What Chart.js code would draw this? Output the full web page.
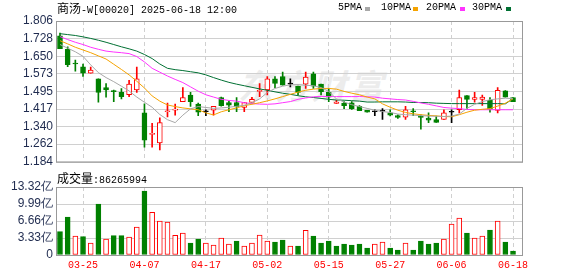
<!DOCTYPE html>
<html>
<head>
<meta charset="utf-8">
<script src="https://cdn.jsdelivr.net/npm/chart.js@4.4.1/dist/chart.umd.min.js"></script>
<style>
body{margin:0;width:578px;height:276px;background:#fff;overflow:hidden;position:relative;font-family:"Liberation Mono",monospace;}
.t{position:absolute;font-size:10px;line-height:14px;color:#000;white-space:nowrap;}
.cjk{font-family:"Noto Sans CJK SC",sans-serif;font-size:12px;}
.sq{position:absolute;width:5px;height:4px;}
#wm{position:absolute;left:238px;top:66px;font:italic bold 34px "Noto Sans CJK SC";line-height:38px;color:#ececec;letter-spacing:3px;}
#kc{position:absolute;left:0;top:0;}
#vc{position:absolute;left:0;top:170px;}
</style>
</head>
<body>
<div id="wm">东方财富</div>
<canvas id="kc" width="578" height="172"></canvas>
<canvas id="vc" width="578" height="106"></canvas>

<div class="t" style="left:57px;top:1px"><span class="cjk">商汤</span>-W[00020] 2025-06-18 12:00</div>
<div class="t" style="left:338px;top:1px">5PMA</div><div class="sq" style="left:365px;top:7px;background:#a8a8a8"></div>
<div class="t" style="left:381px;top:1px">10PMA</div><div class="sq" style="left:413px;top:7px;background:#f5a300"></div>
<div class="t" style="left:426px;top:1px">20PMA</div><div class="sq" style="left:460px;top:7px;background:#ff33ff"></div>
<div class="t" style="left:472px;top:1px">30PMA</div><div class="sq" style="left:506px;top:7px;background:#007033"></div>
<div class="t" style="left:57px;top:171px"><span class="cjk">成交量</span>:86265994</div>

<script>
// ================= DATA =================
const dates = ["03-20","03-21","03-24","03-25","03-26","03-27","03-28","03-31","04-01","04-02",
  "04-03","04-07","04-08","04-09","04-10","04-11","04-14","04-15","04-16","04-17",
  "04-22","04-23","04-24","04-25","04-28","04-29","04-30","05-02","05-06","05-07",
  "05-08","05-09","05-12","05-13","05-14","05-15","05-16","05-19","05-20","05-21",
  "05-22","05-23","05-26","05-27","05-28","05-29","05-30","06-02","06-03","06-04",
  "06-05","06-06","06-09","06-10","06-11","06-12","06-13","06-16","06-17","06-18"];
const xTickDates = ["03-25","04-07","04-17","05-02","05-15","05-27","06-06","06-18"];
const priceTicks = [1.184,1.262,1.340,1.417,1.495,1.573,1.650,1.728,1.806];
const volTicks = [0,3.33,6.66,9.99,13.32];

const open  = [1.741,1.681,1.620,1.604,1.576,1.551,1.512,1.499,1.491,1.481,
  1.501,1.400,1.305,1.267,1.405,1.412,1.450,1.479,1.439,1.405,
  1.412,1.468,1.446,1.446,1.424,1.446,1.495,1.501,1.551,1.561,
  1.527,1.518,1.527,1.573,1.527,1.491,1.442,1.443,1.444,1.429,
  1.411,1.405,1.407,1.400,1.388,1.381,1.409,1.385,1.377,1.370,
  1.371,1.403,1.414,1.476,1.460,1.460,1.455,1.411,1.498,1.468];
const high  = [1.753,1.692,1.633,1.616,1.602,1.551,1.530,1.501,1.508,1.544,
  1.602,1.440,1.354,1.378,1.443,1.439,1.512,1.491,1.443,1.414,
  1.429,1.470,1.452,1.468,1.446,1.469,1.530,1.561,1.561,1.580,
  1.551,1.518,1.580,1.580,1.527,1.508,1.455,1.450,1.450,1.432,
  1.411,1.414,1.419,1.414,1.392,1.429,1.419,1.392,1.400,1.386,
  1.414,1.414,1.501,1.476,1.491,1.479,1.468,1.512,1.499,1.468];
const low   = [1.684,1.604,1.584,1.561,1.576,1.447,1.469,1.450,1.462,1.472,
  1.491,1.249,1.249,1.237,1.382,1.390,1.450,1.429,1.388,1.388,
  1.390,1.430,1.405,1.405,1.405,1.442,1.472,1.479,1.512,1.522,
  1.515,1.479,1.508,1.508,1.479,1.450,1.442,1.419,1.415,1.410,
  1.403,1.388,1.371,1.387,1.376,1.371,1.388,1.328,1.357,1.358,
  1.371,1.357,1.400,1.419,1.447,1.433,1.403,1.400,1.469,1.450];
const close = [1.684,1.613,1.616,1.576,1.589,1.491,1.501,1.494,1.472,1.527,
  1.550,1.280,1.308,1.357,1.408,1.415,1.468,1.450,1.403,1.405,
  1.429,1.432,1.434,1.426,1.446,1.460,1.498,1.550,1.530,1.522,
  1.527,1.490,1.558,1.518,1.494,1.469,1.448,1.432,1.419,1.410,
  1.403,1.405,1.407,1.390,1.380,1.414,1.405,1.380,1.368,1.358,
  1.400,1.403,1.468,1.460,1.468,1.470,1.417,1.500,1.469,1.450];

const ma5  = [1.702,1.686,1.670,1.650,1.612,1.578,1.556,1.538,1.518,1.497,
  1.470,1.447,1.425,1.393,1.370,1.357,1.390,1.418,1.428,1.424,
  1.420,1.422,1.425,1.429,1.434,1.445,1.462,1.490,1.508,1.518,
  1.524,1.525,1.522,1.520,1.512,1.495,1.462,1.448,1.436,1.428,
  1.420,1.412,1.406,1.402,1.395,1.392,1.390,1.388,1.386,1.385,
  1.384,1.386,1.395,1.420,1.438,1.450,1.458,1.462,1.465,1.463];
const ma10 = [1.719,1.705,1.690,1.678,1.666,1.652,1.638,1.615,1.592,1.568,
  1.540,1.510,1.475,1.452,1.435,1.428,1.422,1.418,1.414,1.400,
  1.391,1.405,1.414,1.422,1.432,1.438,1.445,1.453,1.462,1.472,
  1.482,1.492,1.500,1.505,1.508,1.508,1.505,1.495,1.487,1.480,
  1.470,1.462,1.440,1.425,1.412,1.402,1.396,1.392,1.389,1.387,
  1.384,1.383,1.392,1.403,1.412,1.416,1.419,1.430,1.443,1.462];
const ma20 = [1.737,1.724,1.712,1.702,1.690,1.681,1.673,1.669,1.666,1.662,
  1.649,1.625,1.597,1.580,1.563,1.548,1.534,1.515,1.496,1.480,
  1.470,1.460,1.455,1.452,1.445,1.441,1.439,1.438,1.440,1.445,
  1.450,1.460,1.466,1.471,1.473,1.472,1.472,1.472,1.472,1.472,
  1.471,1.470,1.465,1.462,1.459,1.457,1.451,1.444,1.438,1.431,
  1.424,1.421,1.419,1.415,1.414,1.414,1.414,1.414,1.414,1.414];
const ma30 = [1.750,1.746,1.742,1.736,1.729,1.721,1.712,1.702,1.692,1.683,
  1.673,1.658,1.640,1.616,1.597,1.591,1.587,1.582,1.577,1.568,
  1.556,1.545,1.535,1.527,1.520,1.513,1.506,1.500,1.493,1.487,
  1.482,1.476,1.471,1.468,1.464,1.460,1.457,1.456,1.454,1.452,
  1.448,1.448,1.449,1.449,1.449,1.448,1.446,1.446,1.445,1.443,
  1.442,1.441,1.441,1.441,1.441,1.441,1.441,1.441,1.440,1.463];

// volume, in the units of the axis labels
const volume = [4.57,7.44,3.72,3.59,2.35,9.99,3.13,3.79,3.79,3.52,
  5.48,12.53,8.36,6.66,6.46,3.85,4.31,2.35,3.13,2.35,
  1.96,3.33,2.15,2.74,1.76,2.35,3.92,2.74,2.55,2.94,
  1.76,1.76,4.83,3.72,2.35,2.74,1.76,2.15,1.96,2.15,
  1.37,2.15,2.55,1.37,0.98,2.35,0.98,2.74,2.15,2.35,
  3.13,6.07,7.25,4.31,3.33,3.72,4.90,6.66,2.55,0.78];

// ================= STYLE =================
const UP = "#ff0000", DOWN = "#008000", FLAT = "#000000";
const GRID = "#d0d0d0", TICK = "#1f2b4f";
Chart.defaults.font.family = "'Liberation Sans', Arial, sans-serif";

const tickIdx = xTickDates.map(d => dates.indexOf(d));
const candleColor = i => close[i] > open[i] ? UP : (close[i] < open[i] ? DOWN : FLAT);
const volColor = i => close[i] >= (i > 0 ? close[i-1] : open[i]) ? UP : DOWN;
const pts = arr => arr.map((v, i) => ({x: i, y: v}));

// frame round the plot area
const frame = {
  id: "frame",
  afterDraw(c){
    const a = c.chartArea, ctx = c.ctx;
    ctx.save(); ctx.strokeStyle = "#999"; ctx.lineWidth = 1;
    ctx.strokeRect(a.left + 0.5, a.top + 0.5, a.right - a.left, a.bottom - a.top);
    ctx.restore();
  }
};

function xScale(showLabels){
  return {
    type: "linear", min: -0.52, max: 60.17, offset: false,
    afterBuildTicks: a => { a.ticks = tickIdx.map(v => ({value: v})); },
    afterFit: a => { a.height = showLabels ? 21 : 0; },
    grid: {color: GRID, drawTicks: false, offset: false},
    border: {display: false, dash: [4, 3]},
    ticks: {display: showLabels, padding: 4, color: UP, maxRotation: 0, autoSkip: false,
      font: {family: "'Liberation Mono', monospace", size: 10},
      callback: v => dates[v]}
  };
}

function yScale(min, max, ticks, fmt){
  return {
    min, max,
    afterBuildTicks: a => { a.ticks = ticks.map(v => ({value: v})); },
    afterFit: a => { a.width = 56; },
    grid: {color: GRID, drawTicks: false},
    border: {display: false},
    ticks: {padding: 3, color: TICK, autoSkip: false, font: {size: 12}, callback: fmt}
  };
}

const common = {
  responsive: false, animation: false, events: [],
  plugins: {legend: {display: false}, tooltip: {enabled: false}}
};

// ================= K LINE =================
const maLine = (data, color) => ({type: "line", data: pts(data), borderColor: color,
  borderWidth: 1, pointRadius: 0, tension: 0, order: 0});

new Chart(document.getElementById("kc"), {
  type: "bar",
  data: {datasets: [
    maLine(ma5, "#a8a8a8"), maLine(ma10, "#f5a300"), maLine(ma20, "#ff33ff"), maLine(ma30, "#007033"),
    {data: open.map((o, i) => ({x: i, y: [o, close[i]]})), barThickness: 5, grouped: false,
      minBarLength: 1, borderWidth: 1, borderSkipped: false, order: 1,
      borderColor: open.map((o, i) => candleColor(i)),
      backgroundColor: open.map((o, i) => candleColor(i) === UP ? "#fff" : candleColor(i))},
    {data: low.map((l, i) => ({x: i, y: [l, high[i]]})), barThickness: 1, grouped: false,
      order: 2, backgroundColor: low.map((l, i) => candleColor(i))}
  ]},
  options: {...common,
    layout: {padding: {top: 21, right: 56, bottom: 7, left: 0}},
    scales: {x: xScale(false), y: yScale(1.184, 1.806, priceTicks, v => v.toFixed(3))}
  },
  plugins: [frame]
});

// ================= VOLUME =================
new Chart(document.getElementById("vc"), {
  type: "bar",
  data: {datasets: [{
    data: pts(volume), barThickness: 5, borderWidth: 1, borderSkipped: false,
    borderColor: volume.map((v, i) => volColor(i)),
    backgroundColor: volume.map((v, i) => volColor(i) === UP ? "#fff" : DOWN)
  }]},
  options: {...common,
    layout: {padding: {top: 17, right: 56, bottom: 0, left: 0}},
    scales: {x: xScale(true), y: yScale(0, 13.32, volTicks, v => v === 0 ? "0" : v.toFixed(2) + "亿")}
  },
  plugins: [frame]
});
</script>
</body>
</html>
